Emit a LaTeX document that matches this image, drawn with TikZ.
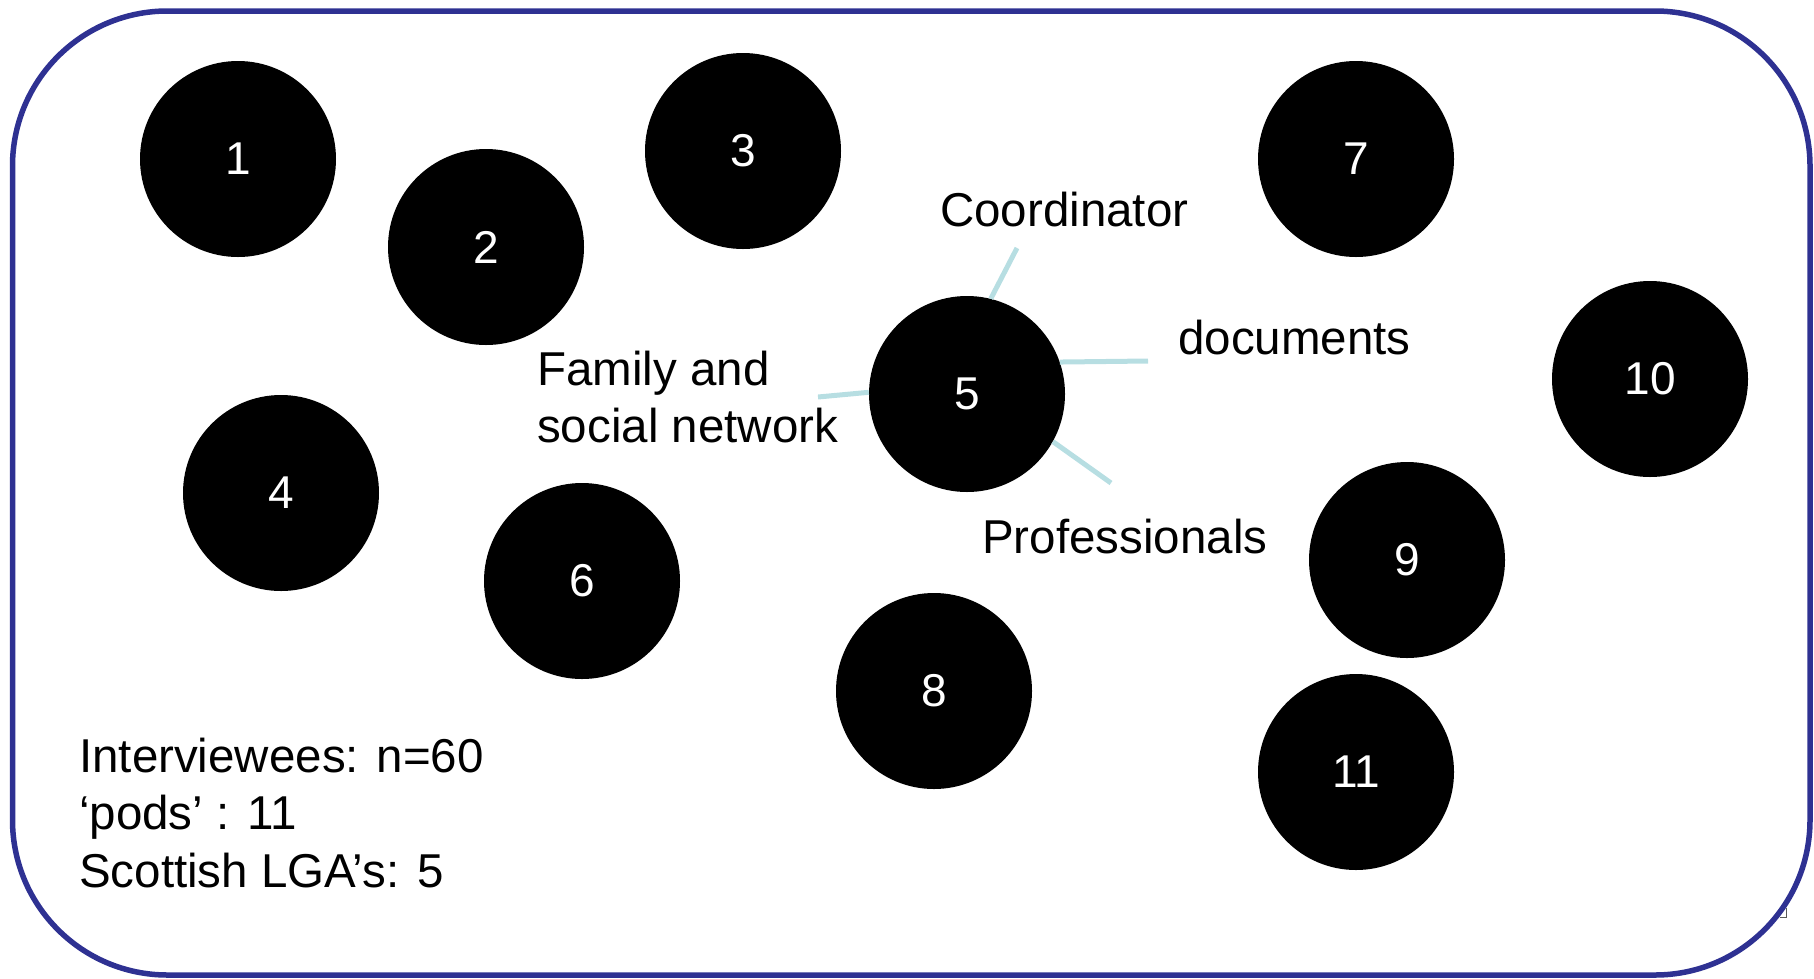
\documentclass[tikz,border=0pt]{standalone}
\usepackage{fontspec}
\setmainfont{Liberation Sans}
\definecolor{frameblue}{RGB}{46,49,146}
\definecolor{linkblue}{RGB}{183,222,226}
\begin{document}
\begin{tikzpicture}[x=1pt,y=-1pt,
  pod/.style={circle,fill=black,draw=none,minimum size=196pt,inner sep=0pt,text=white,font=\fontsize{46}{54}\selectfont},
  lbl/.style={anchor=base west,inner sep=0pt,text=black,font=\fontsize{47.5}{57}\selectfont},
  link/.style={draw=linkblue,line width=5pt}]
\useasboundingbox (0,0) rectangle (1814,978);
\draw[frameblue,line width=5.5pt,rounded corners=155pt] (12.5,11) rectangle (1810,975);
\node[pod] (n1) at (238,159) {1};
\node[pod] (n2) at (486,247) {2};
\node[pod] (n3) at (743,151) {3};
\node[pod] (n4) at (281,493) {4};
\node[pod] (n5) at (967,394) {5};
\node[pod] (n6) at (582,581) {6};
\node[pod] (n7) at (1356,159) {7};
\node[pod] (n8) at (934,691) {8};
\node[pod] (n9) at (1407,560) {9};
\node[pod] (n10) at (1650,379) {10};
\node[pod] (n11) at (1356,772) {11};
\node[lbl] (coord) at (940,226) {Coordinator};
\node[lbl] (docs) at (1178,354) {documents};
\node[lbl] (fam1) at (537,385) {Family and};
\node[lbl] (fam2) at (537,442) {social network};
\node[lbl] (prof) at (982,553) {Professionals};
\node[lbl] (info1) at (79,772) {Interviewees: n=60};
\node[lbl] (info2) at (79,829) {‘pods’ : 11};
\node[lbl] (info3) at (79,887) {Scottish LGA’s: 5};
\coordinate (ecoord) at (1017,248);
\coordinate (edocs) at (1148,361);
\coordinate (efam) at (818,397);
\coordinate (eprof) at (1111,483);
\draw[link] (n5.76) -- (ecoord);
\draw[link] (n5.19) -- (edocs);
\draw[link] (n5.179) -- (efam);
\draw[link] (n5.-29) -- (eprof);
\draw[line width=1pt,gray!70!black] (1780,917) -- (1786,917) -- (1786,908);
\end{tikzpicture}
\end{document}
